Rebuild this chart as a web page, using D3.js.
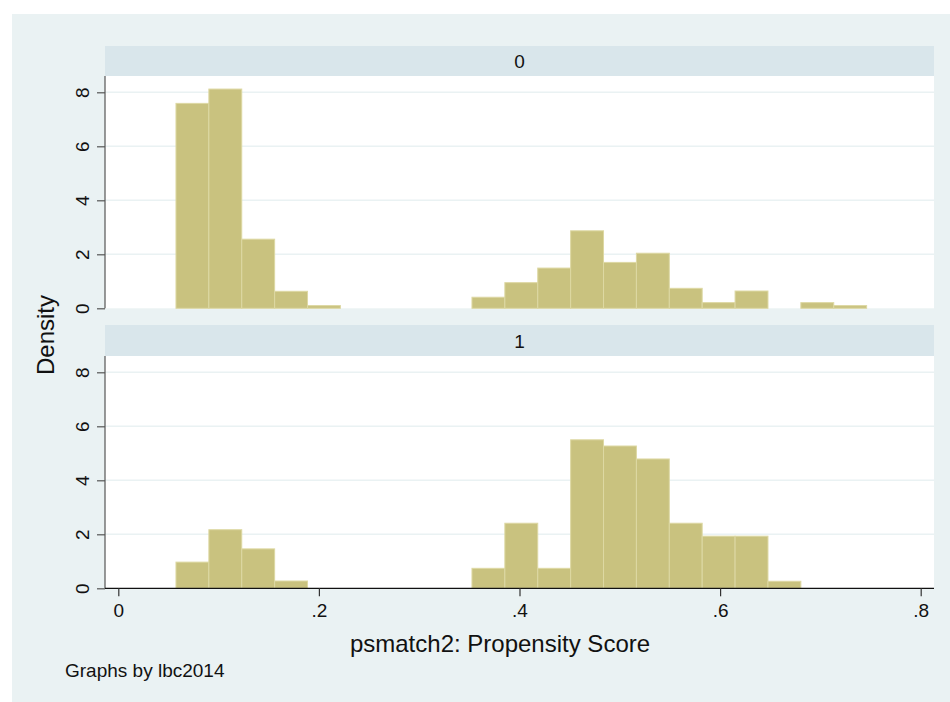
<!DOCTYPE html>
<html><head><meta charset="utf-8">
<script src="https://cdn.jsdelivr.net/npm/d3@7"></script>
<style>body{margin:0;background:#fff}svg{display:block}text{font-family:"Liberation Sans",Arial,Helvetica,sans-serif;fill:#111}</style>
</head><body>
<svg id="chart" width="950" height="702"></svg>
<script>
// ---- data ----
const groups = ["0", "1"];
const binStart = 0.0575;
const binWidth = 0.03279;
const density0 = [7.59, 8.12, 2.56, 0.63, 0.10, 0, 0, 0, 0, 0.41, 0.95, 1.49, 2.87, 1.70, 2.04, 0.74, 0.21, 0.64, 0, 0.21, 0.10];
const density1 = [0.97, 2.17, 1.46, 0.27, 0, 0, 0, 0, 0, 0.74, 2.41, 0.74, 5.50, 5.27, 4.79, 2.41, 1.93, 1.93, 0.26, 0, 0];
const xTicks = [0, 0.2, 0.4, 0.6, 0.8];
const xTickLabels = ["0", ".2", ".4", ".6", ".8"];
const yTicks = [0, 2, 4, 6, 8];
const yTickLabels = ["0", "2", "4", "6", "8"];
const xTitle = "psmatch2: Propensity Score";
const yTitle = "Density";
const note = "Graphs by lbc2014";

// ---- layout ----
const svg = d3.select("#chart");
const plotL = 105, plotR = 934;
const panels = [
  {label: groups[0], values: density0, stripTop: 46, stripBot: 76, base: 308.3},
  {label: groups[1], values: density1, stripTop: 325, stripBot: 356, base: 588.3}
];
const x = d3.scaleLinear().domain([0, 0.8]).range([118.3, 920.7]);

svg.append("rect").attr("x", 12).attr("y", 14).attr("width", 938).attr("height", 688).attr("fill", "#eaf2f3");

panels.forEach((p, pi) => {
  const y = d3.scaleLinear().domain([0, 8]).range([p.base, p.base - 216]);
  // strip
  svg.append("rect").attr("x", plotL).attr("y", p.stripTop).attr("width", plotR - plotL).attr("height", p.stripBot - p.stripTop).attr("fill", "#d9e6eb");
  svg.append("text").attr("x", (plotL + plotR) / 2).attr("y", (p.stripTop + p.stripBot) / 2 + 7).attr("text-anchor", "middle").attr("font-size", 19).text(p.label);
  // plot region
  svg.append("rect").attr("x", plotL).attr("y", p.stripBot).attr("width", plotR - plotL).attr("height", p.base - p.stripBot).attr("fill", "#ffffff");
  // gridlines
  svg.append("g").selectAll("line").data(yTicks.filter(t => t > 0)).join("line")
    .attr("x1", plotL).attr("x2", plotR).attr("y1", d => y(d)).attr("y2", d => y(d))
    .attr("stroke", "#eaf2f3").attr("stroke-width", 1.5);
  // bars
  const bins = p.values.map((v, i) => ({x0: binStart + i * binWidth, x1: binStart + (i + 1) * binWidth, v}));
  svg.append("g").selectAll("rect").data(bins.filter(b => b.v > 0)).join("rect")
    .attr("x", d => x(d.x0)).attr("width", d => x(d.x1) - x(d.x0))
    .attr("y", d => y(d.v)).attr("height", d => y(0) - y(d.v))
    .attr("fill", "#c9c27f").attr("stroke", "#ddd8a3").attr("stroke-width", 1);
  // y axis
  const yAxis = svg.append("g").attr("transform", `translate(${plotL},0)`)
    .call(d3.axisLeft(y).tickValues(yTicks).tickFormat((d, i) => yTickLabels[i]).tickSize(8).tickPadding(0));
  yAxis.select(".domain").attr("d", `M0,${p.stripBot}V${p.base}`).attr("stroke", "#555").attr("stroke-width", 1.2);
  yAxis.selectAll(".tick line").attr("stroke", "#555").attr("stroke-width", 1.2);
  yAxis.selectAll(".tick text").attr("font-size", 19).attr("fill", "#111")
    .attr("font-family", '"Liberation Sans",Arial,sans-serif')
    .attr("x", null).attr("dy", null).attr("text-anchor", "middle")
    .attr("transform", "translate(-16,0) rotate(-90)");
  if (pi === 1) {
    const xAxis = svg.append("g").attr("transform", `translate(0,${p.base})`)
      .call(d3.axisBottom(x).tickValues(xTicks).tickFormat((d, i) => xTickLabels[i]).tickSize(8).tickPadding(7));
    xAxis.select(".domain").attr("d", `M${plotL},0H${plotR}`).attr("stroke", "#111").attr("stroke-width", 1.3);
    xAxis.selectAll(".tick line").attr("stroke", "#333").attr("stroke-width", 1.2);
    xAxis.selectAll(".tick text").attr("font-size", 19).attr("fill", "#111")
      .attr("font-family", '"Liberation Sans",Arial,sans-serif');
  }
});

svg.append("text").attr("x", 500).attr("y", 652).attr("text-anchor", "middle").attr("font-size", 24).text(xTitle);
svg.append("text").attr("transform", "translate(54,335) rotate(-90)").attr("text-anchor", "middle").attr("font-size", 24).text(yTitle);
svg.append("text").attr("x", 65).attr("y", 677).attr("font-size", 19).text(note);
</script>
</body></html>
